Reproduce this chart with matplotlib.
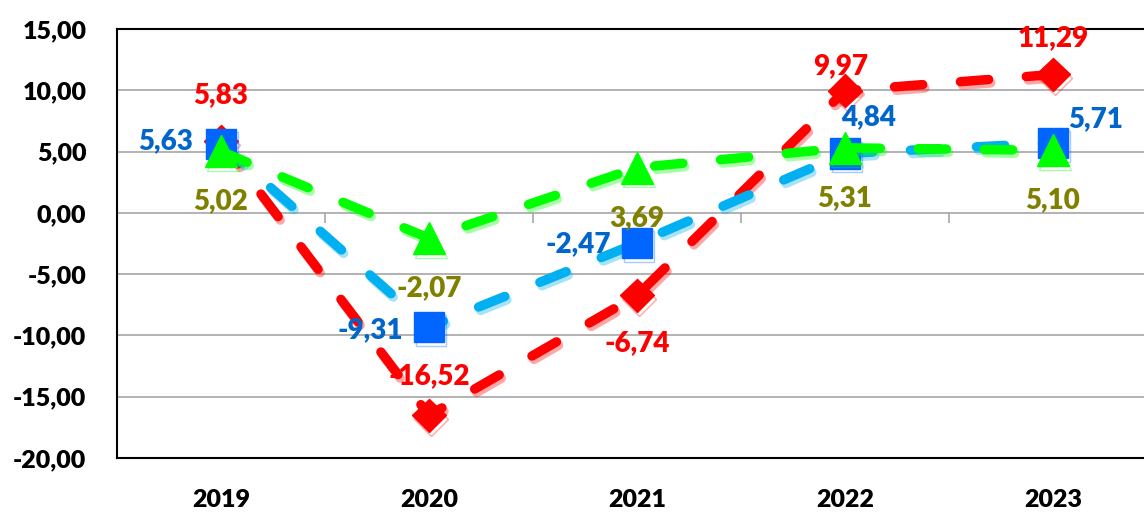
import matplotlib
matplotlib.use("Agg")
import matplotlib.pyplot as plt
import matplotlib.patheffects as pe
import numpy as np

years = ["2019", "2020", "2021", "2022", "2023"]
red_vals = [5.83, -16.52, -6.74, 9.97, 11.29]
blue_vals = [5.63, -9.31, -2.47, 4.84, 5.71]
green_vals = [5.02, -2.07, 3.69, 5.31, 5.10]
yticks = [-20, -15, -10, -5, 0, 5, 10, 15]

# label offsets (points) for each series
red_off = [(0, 33), (0, 28), (0, -34), (-3, 18), (0, 26)]
blue_off = [(-40, 2), (-42, -2), (-42, -1), (17, 26), (31, 17)]
green_off = [(0, -36), (0, -36), (0, -36), (0, -36), (0, -36)]

plt.rcParams['font.family'] = ['Lato', 'DejaVu Sans']

fig = plt.figure(figsize=(11.44, 5.19), dpi=100)
ax = fig.add_axes([117/1144, (519-458)/519, 1040/1144, 429/519])

x = np.arange(len(years))

def fmt(v):
    return f"{v:.2f}".replace(".", ",")

shadow = lambda c: [pe.SimpleLineShadow(offset=(1.5, -2.5), shadow_color=c, alpha=0.35), pe.Normal()]

series = [
    (red_vals, "#FF0000", "#FF0000", "D", 17, "#FF0000", red_off),
    (blue_vals, "#00B0F0", "#0066FF", "s", 22, "#0066CC", blue_off),
    (green_vals, "#00FF00", "#00FF00", "^", 23, "#808000", green_off),
]

z = 3
for vals, lc, mc, mk, ms, tc, offs in series:
    ax.plot(x, vals, color=lc, lw=6.8, ls=(0, (3, 4.0)), dash_capstyle='round',
            solid_capstyle='round', zorder=z, path_effects=shadow(lc))
    ax.plot(x, vals, ls='none', marker=mk, ms=ms, color=mc, mec=mc, zorder=z + 0.5,
            path_effects=shadow(mc))
    for xi, v, o in zip(x, vals, offs):
        ax.annotate(fmt(v), (xi, v), xytext=o, textcoords='offset points',
                    ha='center', va='center', fontsize=20, color=tc,
                    fontweight='heavy', zorder=10)
    z += 1

ax.set_xlim(-0.5, len(years) - 0.5)
ax.set_ylim(-20, 15)
ax.set_yticks(yticks)
ax.set_yticklabels([fmt(v) for v in yticks])
ax.set_xticks(x)
ax.set_xticklabels(years)
ax.tick_params(axis='both', length=0, labelsize=18)
ax.tick_params(axis='y', pad=22)
ax.tick_params(axis='x', pad=22)
for lab in ax.get_xticklabels() + ax.get_yticklabels():
    lab.set_fontweight('heavy')

ax.grid(axis='y', color='#A6A6A6', lw=1.2, zorder=0)
ax.set_axisbelow(True)
ax.vlines(x[:-1] + 0.5, -0.8, 0, color='#A6A6A6', lw=1.2, zorder=1)
for s in ['left', 'bottom', 'top']:
    ax.spines[s].set_color('black')
    ax.spines[s].set_linewidth(1.5)
ax.spines['right'].set_visible(False)

fig.savefig("out.png", dpi=100)
